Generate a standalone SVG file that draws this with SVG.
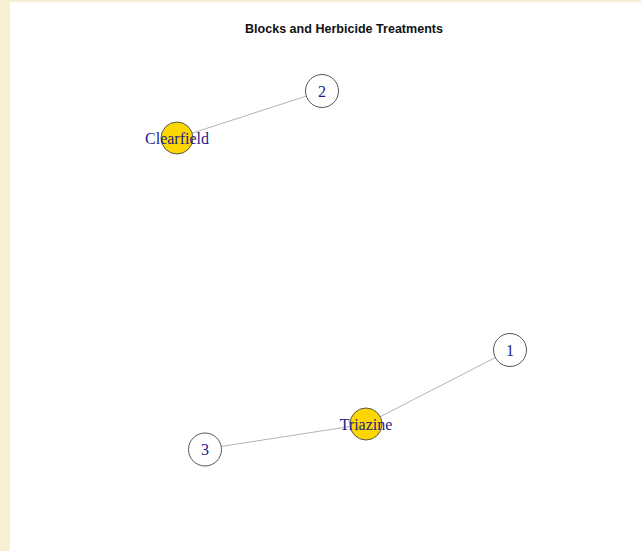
<svg xmlns="http://www.w3.org/2000/svg" width="641" height="551" viewBox="0 0 641 551">
  <style>
    .edge { stroke: #b3b3b3; stroke-width: 1; fill: none; }
    .block { fill: #ffffff; stroke: #555555; stroke-width: 1; }
    .treat { fill: #ffd700; stroke: #555555; stroke-width: 1; }
    .lbl { font-family: "Liberation Serif", "Times New Roman", serif; font-size: 16px; fill: #1c1c8a; text-anchor: middle; dominant-baseline: central; }
    .title { font-family: "Liberation Sans", Arial, sans-serif; font-size: 13px; font-weight: bold; fill: #111111; text-anchor: middle; }
  </style>
  <!-- page background with margin strip -->
  <rect x="0" y="0" width="641" height="551" fill="#f6efd2"/>
  <rect x="10" y="2" width="631" height="549" fill="#ffffff"/>
  <text class="title" x="344" y="33" textLength="198" lengthAdjust="spacingAndGlyphs">Blocks and Herbicide Treatments</text>
  <g id="edges">
    <line class="edge" x1="177" y1="138" x2="322" y2="91"/>
    <line class="edge" x1="366" y1="424" x2="510" y2="350"/>
    <line class="edge" x1="366" y1="424" x2="205" y2="449"/>
  </g>
  <g id="node-2">
    <circle class="block" cx="322" cy="91" r="16.5"/>
    <text class="lbl" x="322" y="91">2</text>
  </g>
  <g id="node-Clearfield">
    <circle class="treat" cx="177" cy="138" r="16"/>
    <text class="lbl" x="177" y="138">Clearfield</text>
  </g>
  <g id="node-1">
    <circle class="block" cx="510" cy="350" r="16.5"/>
    <text class="lbl" x="510" y="350">1</text>
  </g>
  <g id="node-Triazine">
    <circle class="treat" cx="366" cy="424" r="16"/>
    <text class="lbl" x="366" y="424">Triazine</text>
  </g>
  <g id="node-3">
    <circle class="block" cx="205" cy="449.5" r="16.5"/>
    <text class="lbl" x="205" y="449.5">3</text>
  </g>
</svg>
